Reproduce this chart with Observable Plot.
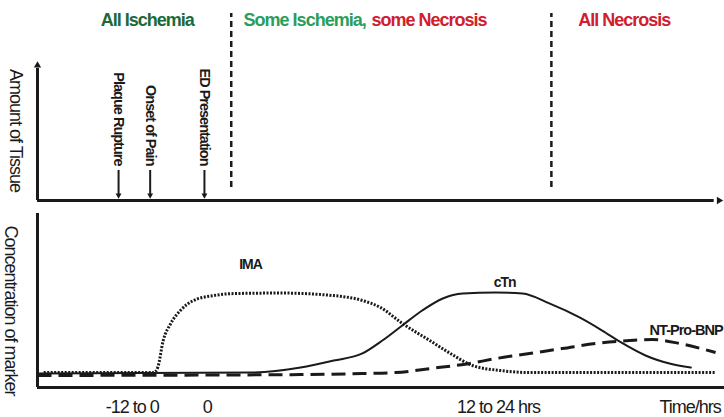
<!DOCTYPE html>
<html>
<head>
<meta charset="utf-8">
<script src="https://cdn.jsdelivr.net/npm/d3@7"></script>
<script src="https://cdn.jsdelivr.net/npm/@observablehq/plot@0.6"></script>
<style>
  body { margin: 0; background: #fff; }
  #chart svg { display: block; }
  #chart text { letter-spacing: -1px; }
</style>
</head>
<body>
<div id="chart"></div>
<script>
// ---- data (abstract time units 0..100, abstract level units 0..100) ----
const phases = ["All Ischemia", "Some Ischemia,", "some Necrosis", "All Necrosis"];
const phaseStart = [9.2, 30.0, 48.6, 78.7];
const phaseBoundaries = [28.2, 74.8];

const events = ["Plaque Rupture", "Onset of Pain", "ED Presentation"];
const eventTime = [11.8, 16.4, 24.3];

const tickTime = [13.8, 24.7, 67.1, 95.0];
const tickLabels = ["-12 to 0", "0", "12 to 24 hrs", "Time/hrs"];

const imaTime  = [0.9, 16.9, 17.5, 18.3, 19.4, 20.8, 22.7, 25.6, 28.5, 35.4, 43.1, 47.3, 49.9, 53.1, 57.1, 60.1, 63.3, 67.4, 71.8, 98.7];
const imaLevel = [8.2, 8.2, 11.0, 25.8, 35.2, 42.3, 47.8, 50.5, 51.6, 51.9, 50.5, 47.8, 44.0, 35.2, 25.8, 18.7, 12.1, 9.3, 8.2, 8.2];

const ctnTime  = [0, 31.0, 38.3, 43.1, 47.3, 50.2, 53.1, 56.0, 59.0, 61.9, 66.7, 70.6, 74.5, 78.9, 82.2, 85.2, 88.5, 92.0, 95.1];
const ctnLevel = [7.7, 8.2, 11.0, 14.8, 18.7, 25.8, 34.1, 42.3, 48.9, 51.6, 52.2, 51.6, 46.2, 38.5, 31.3, 24.2, 17.6, 13.2, 11.0];

const bnpTime  = [0, 38.3, 47.3, 52.1, 57.1, 62.9, 66.7, 71.6, 76.4, 81.2, 86.2, 89.5, 93.4, 98.7];
const bnpLevel = [6.6, 7.1, 7.7, 8.2, 10.4, 13.2, 15.9, 18.7, 21.4, 24.2, 25.8, 26.4, 24.2, 19.2];

const markerNames = ["IMA", "cTn", "NT-Pro-BNP"];
const markerLabelTime = [31.0, 68.0, 89.1];
const markerLabelLevel = [67.6, 57.7, 31.3];

// ---- styling ----
const ink = "#1a1a1a";
const phaseColors = ["#1b6a37", "#2b9d5c", "#d0202e", "#d0202e"];
const font = "'Liberation Sans', Arial, Helvetica, sans-serif";
const rows = (xs, ys) => xs.map((x, i) => ({x, y: ys[i]}));

const tissuePlot = Plot.plot({
  width: 724, height: 205,
  marginLeft: 37, marginRight: 0, marginTop: 0, marginBottom: 5,
  x: {domain: [0, 100], axis: null},
  y: {domain: [0, 100], axis: null},
  color: {type: "identity"},
  style: {fontFamily: font, background: "white", overflow: "visible", color: ink},
  marks: [
    Plot.ruleX(phaseBoundaries, {x: d => d, y1: 6.5, y2: 93.5, stroke: ink, strokeWidth: 2.5, strokeDasharray: "6,4"}),
    Plot.ruleX([0], {y1: 0, y2: 66, stroke: ink, strokeWidth: 3}),
    Plot.dot([0], {x: 0, y: 67.5, symbol: "triangle2", r: 3.5, fill: ink, stroke: null}),
    Plot.ruleY([0], {x1: 0, x2: 98.5, stroke: ink, strokeWidth: 3}),
    Plot.dot([0], {x: 99.2, y: 0, symbol: "triangle2", r: 3.5, rotate: 90, fill: ink, stroke: null}),
    Plot.ruleX(eventTime, {x: d => d, y1: 2, y2: 15, stroke: ink, strokeWidth: 2}),
    Plot.dot(eventTime, {x: d => d, y: 2.6, symbol: "triangle2", r: 2.8, rotate: 180, fill: ink, stroke: null}),
    Plot.text(events, {x: (d, i) => eventTime[i], y: 17.5, text: d => d, rotate: 90, textAnchor: "end", fontSize: 14.5, fontWeight: "bold", fill: ink}),
    Plot.text(["Amount of Tissue"], {x: -3.2, y: 35, text: d => d, rotate: 90, fontSize: 18, fill: ink}),
    Plot.text(phases, {x: (d, i) => phaseStart[i], y: 90, text: d => d, textAnchor: "start", fontSize: 18, fontWeight: "bold", fill: (d, i) => phaseColors[i]})
  ]
});

const markerPlot = Plot.plot({
  width: 724, height: 212,
  marginLeft: 37, marginRight: 0, marginTop: 0, marginBottom: 30,
  x: {domain: [0, 100]},
  y: {domain: [0, 100], axis: null},
  style: {fontFamily: font, background: "white", overflow: "visible", color: ink},
  marks: [
    Plot.ruleX([0], {y1: 0, y2: 95.6, stroke: ink, strokeWidth: 3}),
    Plot.ruleY([0], {x1: 0, x2: 100, stroke: ink, strokeWidth: 3}),
    Plot.line(rows(bnpTime, bnpLevel), {x: "x", y: "y", stroke: ink, strokeWidth: 3, strokeDasharray: "14,7", strokeLinecap: "butt", curve: "monotone-x"}),
    Plot.line(rows(ctnTime, ctnLevel), {x: "x", y: "y", stroke: ink, strokeWidth: 2, curve: "monotone-x"}),
    Plot.line(rows(imaTime, imaLevel), {x: "x", y: "y", stroke: ink, strokeWidth: 3, strokeDasharray: "2,1.5", strokeLinecap: "butt", curve: "monotone-x"}),
    Plot.text(markerNames.slice(0, 2), {x: (d, i) => markerLabelTime[i], y: (d, i) => markerLabelLevel[i], text: d => d, fontSize: 14, fontWeight: "bold", fill: ink}),
    Plot.text(markerNames.slice(2), {x: markerLabelTime[2], y: markerLabelLevel[2], text: d => d, textAnchor: "start", fontSize: 14.5, fontWeight: "bold", fill: ink}),
    Plot.text(["Concentration of marker"], {x: -3.9, y: 42.3, text: d => d, rotate: 90, fontSize: 18, fill: ink}),
    Plot.axisX(tickTime, {tickFormat: d => tickLabels[tickTime.indexOf(d)], tickSize: 0, tickPadding: 13, fontSize: 18, fontWeight: "normal", label: null})
  ]
});

document.getElementById("chart").append(tissuePlot, markerPlot);
</script>
</body>
</html>
